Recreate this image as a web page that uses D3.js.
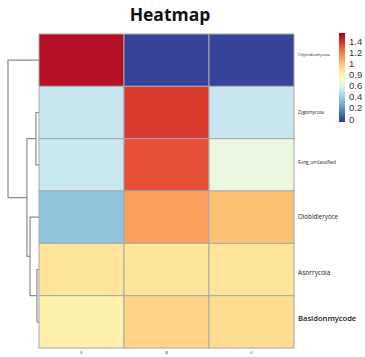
<!DOCTYPE html>
<html>
<head>
<meta charset="utf-8">
<script src="https://cdn.jsdelivr.net/npm/d3@7"></script>
<style>
  html, body { margin: 0; padding: 0; background: #ffffff; }
  svg { display: block; }
</style>
</head>
<body>
<svg id="chart" width="365" height="357"></svg>
<script>
// ---- data ----
const rows = ["Chytridiomycota", "Zygomycota", "Fung_unclassified", "Olobidieryoce", "Asorrycola", "Basldonmycode"];
const cols = ["K", "B", "U"];
const values = [
  [1.45, 0.03, 0.03],
  [0.53, 1.33, 0.53],
  [0.54, 1.27, 0.66],
  [0.38, 1.08, 0.99],
  [0.87, 0.87, 0.87],
  [0.81, 0.93, 0.90]
];
const legendTicks = ["1.4", "1.2", "1", "0.9", "0.6", "0.4", "0.2", "0"];
// row clustering (merge heights)
const rowTree = {
  height: 1.0, children: [
    { name: "Chytridiomycota" },
    { height: 0.39, children: [
      { height: 0.1, children: [{ name: "Zygomycota" }, { name: "Fung_unclassified" }] },
      { height: 0.29, children: [
        { name: "Olobidieryoce" },
        { height: 0.065, children: [{ name: "Asorrycola" }, { name: "Basldonmycode" }] }
      ] }
    ] }
  ]
};

// ---- layout ----
const svg = d3.select("#chart");
const grid = { left: 39, right: 294, top: 34, bottom: 348 };
const rowLabelSize = [4.2, 4.6, 4.6, 6.2, 6.6, 7.6];
const rowLabelShift = [-6, 0, -2, 0, 3, -3];

const x = d3.scaleBand().domain(cols).range([grid.left, grid.right]);
const y = d3.scaleBand().domain(rows).range([grid.top, grid.bottom]);
const color = d3.scaleSequential(t => d3.interpolateRdYlBu(1 - t)).domain([0, 1.5]);

// title
svg.append("text")
  .attr("x", 170).attr("y", 21)
  .attr("text-anchor", "middle")
  .attr("font-family", "'Open Sans', sans-serif")
  .attr("font-weight", "bold")
  .attr("font-size", 17.5)
  .attr("fill", "#111")
  .text("Heatmap");

// cells
const cells = [];
rows.forEach((r, i) => cols.forEach((c, j) => cells.push({ r, c, v: values[i][j] })));
svg.append("g").selectAll("rect").data(cells).join("rect")
  .attr("x", d => x(d.c))
  .attr("y", d => y(d.r))
  .attr("width", x.bandwidth())
  .attr("height", y.bandwidth())
  .attr("fill", d => color(d.v))
  .attr("stroke", "#a9a9a9")
  .attr("stroke-width", 1);

// row labels
svg.append("g").selectAll("text").data(rows).join("text")
  .attr("x", 298)
  .attr("y", (d, i) => y(d) + y.bandwidth() / 2 + rowLabelShift[i])
  .attr("dy", "0.35em")
  .attr("font-family", "'Open Sans', sans-serif")
  .attr("font-size", (d, i) => rowLabelSize[i])
  .attr("font-weight", (d, i) => i === 5 ? 600 : 400)
  .attr("fill", "#222")
  .text(d => d);

// column labels
svg.append("g").selectAll("text").data(cols).join("text")
  .attr("x", d => x(d) + x.bandwidth() / 2)
  .attr("y", 354)
  .attr("text-anchor", "middle")
  .attr("font-family", "'Open Sans', sans-serif")
  .attr("font-size", 4)
  .attr("fill", "#333")
  .text(d => d);

// dendrogram
const root = d3.hierarchy(rowTree);
const hx = d3.scaleLinear().domain([0, 1]).range([grid.left, 8]);
root.eachAfter(n => {
  if (!n.children) {
    n.py = y(n.data.name) + y.bandwidth() / 2;
    n.px = hx(0);
  } else {
    n.py = d3.mean(n.children, c => c.py);
    n.px = hx(n.data.height);
  }
});
const dend = svg.append("g")
  .attr("fill", "none")
  .attr("stroke", "#8c8c8c")
  .attr("stroke-width", 1.2);
root.descendants().filter(n => n.children).forEach(n => {
  n.children.forEach(c => {
    dend.append("path")
      .attr("d", `M${n.px},${n.py}V${c.py}H${c.px}`);
  });
});

// legend
const lg = { x: 339, w: 6, top: 33, bottom: 122 };
const defs = svg.append("defs");
const grad = defs.append("linearGradient")
  .attr("id", "lgrad").attr("x1", 0).attr("y1", 1).attr("x2", 0).attr("y2", 0);
d3.range(0, 1.0001, 0.05).forEach(t => {
  grad.append("stop").attr("offset", t).attr("stop-color", color(t * 1.5));
});
svg.append("rect")
  .attr("x", lg.x).attr("y", lg.top)
  .attr("width", lg.w).attr("height", lg.bottom - lg.top)
  .attr("fill", "url(#lgrad)");

const ly = d3.scalePoint().domain(legendTicks).range([41, 119]);
const legendAxis = svg.append("g")
  .attr("transform", `translate(${lg.x + lg.w},0)`)
  .call(d3.axisRight(ly).tickSize(0).tickPadding(4));
legendAxis.select(".domain").remove();
legendAxis.selectAll("text")
  .attr("font-family", "'Liberation Sans', Arial, sans-serif")
  .attr("font-size", 9.5)
  .attr("fill", "#333");
</script>
</body>
</html>
